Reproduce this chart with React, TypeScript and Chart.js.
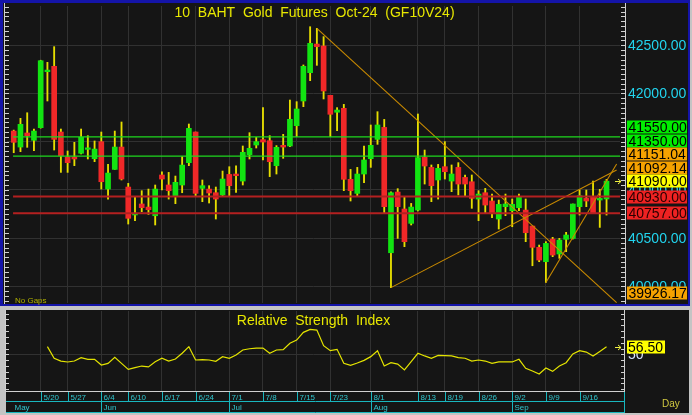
import React, { useEffect, useRef } from "react";
import { Chart, registerables } from "chart.js";
Chart.register(...registerables);

const FONT = '"Liberation Sans", Arial, sans-serif';
const DARK = "#151515";
const GRID = "#313131";

const title = "10  BAHT  Gold  Futures  Oct-24  (GF10V24)";
const rsiTitle = "Relative  Strength  Index";

const dates = ["5/14","5/15","5/16","5/17","5/20","5/21","5/23","5/24","5/27","5/28","5/29","5/30","5/31","6/4","6/5","6/6","6/7","6/10","6/11","6/12","6/13","6/14","6/17","6/18","6/19","6/20","6/21","6/24","6/25","6/26","6/27","6/28","7/1","7/2","7/3","7/4","7/5","7/8","7/9","7/10","7/11","7/12","7/15","7/16","7/17","7/18","7/19","7/23","7/24","7/25","7/26","7/30","7/31","8/1","8/2","8/5","8/6","8/7","8/8","8/9","8/13","8/14","8/15","8/16","8/19","8/20","8/21","8/22","8/23","8/26","8/27","8/28","8/29","8/30","9/2","9/3","9/4","9/5","9/6","9/9","9/10","9/11","9/12","9/13","9/16","9/17","9/18","9/19","9/20"];

const opens = [41610,41444,41590,41514,41645,42226,42282,41600,41340,41340,
  41379,41420,41323,41500,41008,41212,41444,41029,40739,40853,
  40821,40731,41154,41050,40936,41050,41282,41600,41015,41008,
  40970,40946,41160,41164,41091,41365,41465,41521,41510,41251,
  41462,41455,41666,41922,42216,42513,42493,41981,41805,41846,
  41109,40963,41164,41323,41524,41648,40347,40977,40801,40652,
  40790,41337,41233,41102,41240,41091,41233,41129,41084,40904,
  40970,40884,40697,40825,40783,40815,40790,40624,40403,40254,
  40489,40334,40486,40496,40825,40911,40929,40894,40905];
const highs = [41620,41742,41800,41631,42345,42323,42486,41631,41403,41493,
  41631,41562,41507,41600,41264,41610,41704,41067,40929,40991,
  41008,41050,41188,41181,41143,41344,41683,41600,41102,41043,
  41029,41195,41240,41250,41455,41593,41545,41853,41562,41459,
  41576,41932,41915,42296,42693,42676,42590,41981,41853,41887,
  41212,41233,41455,41673,41811,41731,40980,41012,40929,40859,
  41787,41413,41258,41264,41500,41258,41282,41154,41154,40991,
  41015,40956,40894,40956,40905,40956,40905,40624,40427,40462,
  40507,40496,40559,40853,40998,40998,41091,41005,41109];
const lows = [41385,41396,41441,41406,41640,41922,41413,41181,41181,41251,
  41372,41320,41292,41008,40904,41212,41102,40645,40680,40773,
  40745,40635,40998,40904,40856,40970,41251,40939,40877,40863,
  40697,40939,40939,40974,41050,41320,41434,41310,41137,41164,
  41327,41448,41552,41863,42133,42292,41943,41552,41614,40991,
  40884,40939,41074,41233,41472,40763,39985,40496,40410,40635,
  40780,41060,40877,40904,41112,40981,40946,40929,40808,40680,
  40756,40711,40593,40732,40617,40783,40462,40212,40254,40039,
  40306,40289,40358,40489,40738,40825,40756,40610,40738];
const closes = [41493,41680,41562,41610,42340,42243,41524,41354,41282,41320,
  41545,41425,41423,41084,41174,41444,41112,40704,40741,40815,
  40794,41008,41112,40991,41078,41257,41638,40963,41043,40967,
  40904,41112,41043,41147,41389,41431,41500,41496,41292,41441,
  41444,41732,41839,42282,42520,42486,42026,41784,41828,41109,
  40991,41164,41310,41462,41673,40825,40970,40825,40462,40821,
  41334,41247,41043,41223,41188,41164,41060,41060,40911,40956,
  40842,40752,40849,40853,40849,40922,40555,40403,40271,40444,
  40323,40479,40531,40853,40939,40884,40756,40911,41090];

const rsi = [null,null,null,null,null,56.6,46.6,44.2,43.4,44.2,
  47.1,45.7,45.7,40.8,42.2,47.4,42.2,37.0,38.5,39.9,
  39.1,43.6,46.6,44.2,46.0,50.9,56.6,45.1,45.4,45.1,
  44.0,47.9,46.6,49.4,53.7,54.8,55.4,55.4,50.9,53.7,
  54.0,59.5,62.3,68.9,71.5,70.9,57.4,53.1,54.3,42.2,
  40.5,42.5,44.8,48.0,53.1,39.9,42.8,41.6,36.5,43.6,
  50.9,48.6,46.6,49.1,48.8,48.6,47.1,46.6,44.2,45.1,
  44.2,42.2,43.4,43.6,43.4,45.7,37.9,35.6,33.0,38.2,
  35.3,39.9,42.8,50.3,53.1,51.9,48.6,52.5,56.5];

const weekTicks = ["5/20","5/27","6/4","6/10","6/17","6/24","7/1","7/8","7/15","7/23","8/1","8/13","8/19","8/26","9/2","9/9","9/16"];
const monthLabels = ["May","Jun","Jul","Aug","Sep"];
const monthStarts = ["5/14","6/4","7/1","8/1","9/2"];

const priceTicks = [40000,40500,41000,41500,42000,42500];
const greenLevels = [41550,41350];
const redLevels = [40930,40757];

// trendlines: start date, start value, value at the last bar
const trendStart = ["7/18","8/6","9/9"];
const trendStartVal = [42676,39985,40039];
const trendLastVal = [39926.17,41151.04,41092.14];

const idxOf = (d: string) => dates.indexOf(d);
const weekIdx = weekTicks.map(idxOf);
const monthIdx = monthStarts.map(idxOf);
const X_MIN = -1, X_MAX = 90, EXT = 89.5;
const LAST = dates.length - 1;

function trendPoints(k: number) {
  const i0 = idxOf(trendStart[k]);
  const v0 = trendStartVal[k];
  const v1 = trendLastVal[k];
  const slope = (v1 - v0) / (LAST - i0);
  return [{ x: i0, y: v0 }, { x: EXT, y: v1 + slope * (EXT - LAST) }];
}

const xScaleCfg = {
  type: "linear",
  min: X_MIN,
  max: X_MAX,
  offset: false,
  grid: { color: GRID, drawTicks: false, offset: false, lineWidth: 1 },
  border: { display: false },
  ticks: { display: false },
  afterBuildTicks: (s: any) => { s.ticks = weekIdx.map((v) => ({ value: v })); },
  afterFit: (s: any) => { s.height = 0; },
};

function arrow(ctx: CanvasRenderingContext2D, y: number) {
  ctx.strokeStyle = "#f0f040";
  ctx.lineWidth = 1;
  ctx.beginPath();
  ctx.moveTo(615, y); ctx.lineTo(621, y);
  ctx.moveTo(618, y - 2.5); ctx.lineTo(621, y); ctx.lineTo(618, y + 2.5);
  ctx.stroke();
}

function MainChart() {
  const ref = useRef<HTMLCanvasElement>(null);
  useEffect(() => {
    const bg = {
      id: "bgMain",
      beforeDraw(chart: any) {
        const ctx = chart.ctx;
        ctx.save();
        ctx.fillStyle = "#c4c4c4"; ctx.fillRect(0, 0, 692, 307);
        ctx.fillStyle = "#1414a8"; ctx.fillRect(0, 0, 690, 306);
        ctx.fillStyle = DARK; ctx.fillRect(3, 3, 685, 301);
        ctx.restore();
      },
    };
    const decor = {
      id: "mainDecor",
      afterDraw(chart: any) {
        const { ctx, chartArea: a, scales } = chart;
        const y = scales.y;
        ctx.save();
        ctx.strokeStyle = "#d0d0d0"; ctx.lineWidth = 1;
        ctx.beginPath();
        ctx.moveTo(4.5, 3); ctx.lineTo(4.5, 304);
        ctx.moveTo(625.5, 3); ctx.lineTo(625.5, 304);
        for (let v = Math.ceil(y.min / 50) * 50; v <= y.max; v += 50) {
          const p = Math.round(y.getPixelForValue(v)) + 0.5;
          ctx.moveTo(5, p); ctx.lineTo(9, p);
          ctx.moveTo(621, p); ctx.lineTo(625, p);
        }
        ctx.stroke();

        ctx.font = `14px ${FONT}`;
        ctx.fillStyle = "#e8e800";
        ctx.textAlign = "center";
        ctx.textBaseline = "alphabetic";
        ctx.fillText(title, (a.left + a.right) / 2 + 1, 17);

        ctx.font = `8px ${FONT}`;
        ctx.fillStyle = "#b0b000";
        ctx.textAlign = "left";
        ctx.fillText("No Gaps", 15, 303);

        ctx.font = `14px ${FONT}`;
        ctx.textBaseline = "middle";
        ctx.fillStyle = "#22d4ee";
        priceTicks.forEach((v) => ctx.fillText(v.toFixed(2), 628, y.getPixelForValue(v) + 1));

        const boxes = [
          ...greenLevels.map((v) => ({ v, bg: "#00ee00", fg: "#000" })),
          ...trendLastVal.map((v) => ({ v, bg: "#f5a200", fg: "#000" })),
          { v: closes[LAST], bg: "#ffff00", fg: "#000" },
          ...redLevels.map((v) => ({ v, bg: "#ee2222", fg: "#2a0000" })),
        ].sort((p, q) => q.v - p.v);
        let prev = Infinity;
        const centers: number[] = [];
        for (let k = boxes.length - 1; k >= 0; k--) {
          const py = y.getPixelForValue(boxes[k].v);
          const c = Math.min(py, prev - 13.5);
          centers[k] = c;
          prev = c;
        }
        boxes.forEach((b, k) => {
          const c = Math.round(centers[k]);
          ctx.fillStyle = b.bg;
          ctx.fillRect(627, c - 6.5, 60, 13);
          ctx.fillStyle = b.fg;
          ctx.fillText(b.v.toFixed(2), 628.5, c + 1);
        });
        arrow(ctx, Math.round(y.getPixelForValue(closes[LAST])) + 0.5);
        ctx.restore();
      },
    };

    const chart = new Chart(ref.current!, {
      type: "bar",
      data: {
        datasets: [
          ...greenLevels.map((v) => ({
            type: "line", data: [{ x: -0.1, y: v }, { x: X_MAX, y: v }],
            borderColor: "#1ed81e", borderWidth: 1.3, pointRadius: 0, order: 0,
          })),
          ...redLevels.map((v) => ({
            type: "line", data: [{ x: -0.1, y: v }, { x: X_MAX, y: v }],
            borderColor: "#b42020", borderWidth: 2, pointRadius: 0, order: 0,
          })),
          ...trendStart.map((_, k) => ({
            type: "line", data: trendPoints(k),
            borderColor: "#c98a00", borderWidth: 1.1, pointRadius: 0, order: 0,
          })),
          {
            type: "bar",
            data: dates.map((_, i) => ({ x: i, y: [opens[i], closes[i]] })),
            backgroundColor: dates.map((_, i) => (closes[i] >= opens[i] ? "#12e412" : "#f02828")),
            barThickness: 5, minBarLength: 1.5, grouped: false, borderWidth: 0, order: 1,
          },
          {
            type: "bar",
            data: dates.map((_, i) => ({ x: i, y: [lows[i], highs[i]] })),
            backgroundColor: "#e6de00",
            barThickness: 1.2, grouped: false, borderWidth: 0, order: 2,
          },
        ] as any,
      },
      options: {
        responsive: false,
        animation: false,
        devicePixelRatio: 1,
        events: [],
        layout: { padding: { left: 7, top: 6, right: 0, bottom: 4 } },
        plugins: { legend: { display: false }, tooltip: { enabled: false } },
        scales: {
          x: xScaleCfg as any,
          y: {
            type: "linear",
            position: "right",
            min: 39825.4,
            max: 42907.9,
            grid: { color: GRID, drawTicks: false, lineWidth: 1 },
            border: { display: false },
            ticks: { display: false },
            afterBuildTicks: (s: any) => { s.ticks = priceTicks.map((v) => ({ value: v })); },
            afterFit: (s: any) => { s.width = 72; },
          },
        },
      },
      plugins: [bg, decor],
    } as any);
    return () => chart.destroy();
  }, []);
  return <canvas ref={ref} width={692} height={307} style={{ position: "absolute", left: 0, top: 0 }} />;
}

function RsiChart() {
  const ref = useRef<HTMLCanvasElement>(null);
  useEffect(() => {
    const bg = {
      id: "bgRsi",
      beforeDraw(chart: any) {
        const ctx = chart.ctx;
        ctx.save();
        ctx.fillStyle = "#c4c4c4"; ctx.fillRect(0, 0, 692, 108);
        ctx.fillStyle = DARK; ctx.fillRect(6, 3, 683, 103);
        ctx.restore();
      },
    };
    const decor = {
      id: "rsiDecor",
      afterDraw(chart: any) {
        const { ctx, chartArea: a, scales } = chart;
        const y = scales.y, x = scales.x;
        ctx.save();
        ctx.strokeStyle = "#d0d0d0"; ctx.lineWidth = 1;
        ctx.beginPath();
        ctx.moveTo(5.5, 3); ctx.lineTo(5.5, 85);
        ctx.moveTo(624.5, 3); ctx.lineTo(624.5, 85);
        ctx.moveTo(5, 84.5); ctx.lineTo(625, 84.5);
        for (let v = 20; v <= 85; v += 5) {
          const p = Math.round(y.getPixelForValue(v)) + 0.5;
          ctx.moveTo(6, p); ctx.lineTo(9, p);
          ctx.moveTo(621, p); ctx.lineTo(624, p);
        }
        ctx.stroke();

        ctx.font = `14px ${FONT}`;
        ctx.fillStyle = "#e8e800";
        ctx.textAlign = "center";
        ctx.textBaseline = "alphabetic";
        ctx.fillText(rsiTitle, (a.left + a.right) / 2, 18);

        ctx.textAlign = "left";
        ctx.textBaseline = "middle";
        ctx.fillStyle = "#d8e4ff";
        ctx.fillText("50", 628, y.getPixelForValue(50) + 1);
        const last = rsi[LAST] as number;
        const c = Math.round(y.getPixelForValue(last));
        ctx.fillStyle = "#ffff00";
        ctx.fillRect(627, c - 6.5, 38, 13);
        ctx.fillStyle = "#000";
        ctx.fillText(last.toFixed(2), 628, c + 1);
        arrow(ctx, c + 0.5);

        // date axis
        ctx.strokeStyle = "#19b6be";
        ctx.fillStyle = "#30c6ce";
        ctx.font = `8px ${FONT}`;
        ctx.textBaseline = "alphabetic";
        ctx.beginPath();
        weekIdx.forEach((i, k) => {
          const px = Math.round(x.getPixelForValue(i)) + 0.5;
          ctx.moveTo(px, 85); ctx.lineTo(px, 94);
          ctx.fillText(weekTicks[k], px + 2, 93);
        });
        ctx.moveTo(6, 94.5); ctx.lineTo(625, 94.5);
        monthIdx.forEach((i, k) => {
          const px = Math.round(x.getPixelForValue(i)) + 0.5;
          if (k > 0) { ctx.moveTo(px, 94); ctx.lineTo(px, 105); }
          ctx.fillText(monthLabels[k], k > 0 ? px + 2 : px, 103);
        });
        ctx.moveTo(6, 105.5); ctx.lineTo(625, 105.5);
        ctx.moveTo(624.5, 85); ctx.lineTo(624.5, 106);
        ctx.stroke();

        ctx.font = `10px ${FONT}`;
        ctx.fillStyle = "#d0c840";
        ctx.fillText("Day", 662, 100);
        ctx.restore();
      },
    };

    const chart = new Chart(ref.current!, {
      type: "line",
      data: {
        datasets: [
          {
            data: rsi.map((v, i) => (v == null ? null : { x: i, y: v })).filter((p) => p !== null),
            borderColor: "#e4e400",
            borderWidth: 1.2,
            pointRadius: 0,
            tension: 0,
          },
        ] as any,
      },
      options: {
        responsive: false,
        animation: false,
        devicePixelRatio: 1,
        events: [],
        layout: { padding: { left: 7, top: 4, right: 0, bottom: 24 } },
        plugins: { legend: { display: false }, tooltip: { enabled: false } },
        scales: {
          x: xScaleCfg as any,
          y: {
            type: "linear",
            position: "right",
            min: 18.4,
            max: 87.3,
            grid: { color: GRID, drawTicks: false, lineWidth: 1 },
            border: { display: false },
            ticks: { display: false },
            afterBuildTicks: (s: any) => { s.ticks = [{ value: 50 }]; },
            afterFit: (s: any) => { s.width = 72; },
          },
        },
      },
      plugins: [bg, decor],
    } as any);
    return () => chart.destroy();
  }, []);
  return <canvas ref={ref} width={692} height={108} style={{ position: "absolute", left: 0, top: 307 }} />;
}

export default function App() {
  return (
    <div style={{ position: "absolute", left: 0, top: 0, width: 692, height: 415, background: "#c4c4c4", overflow: "hidden" }}>
      <MainChart />
      <RsiChart />
    </div>
  );
}
